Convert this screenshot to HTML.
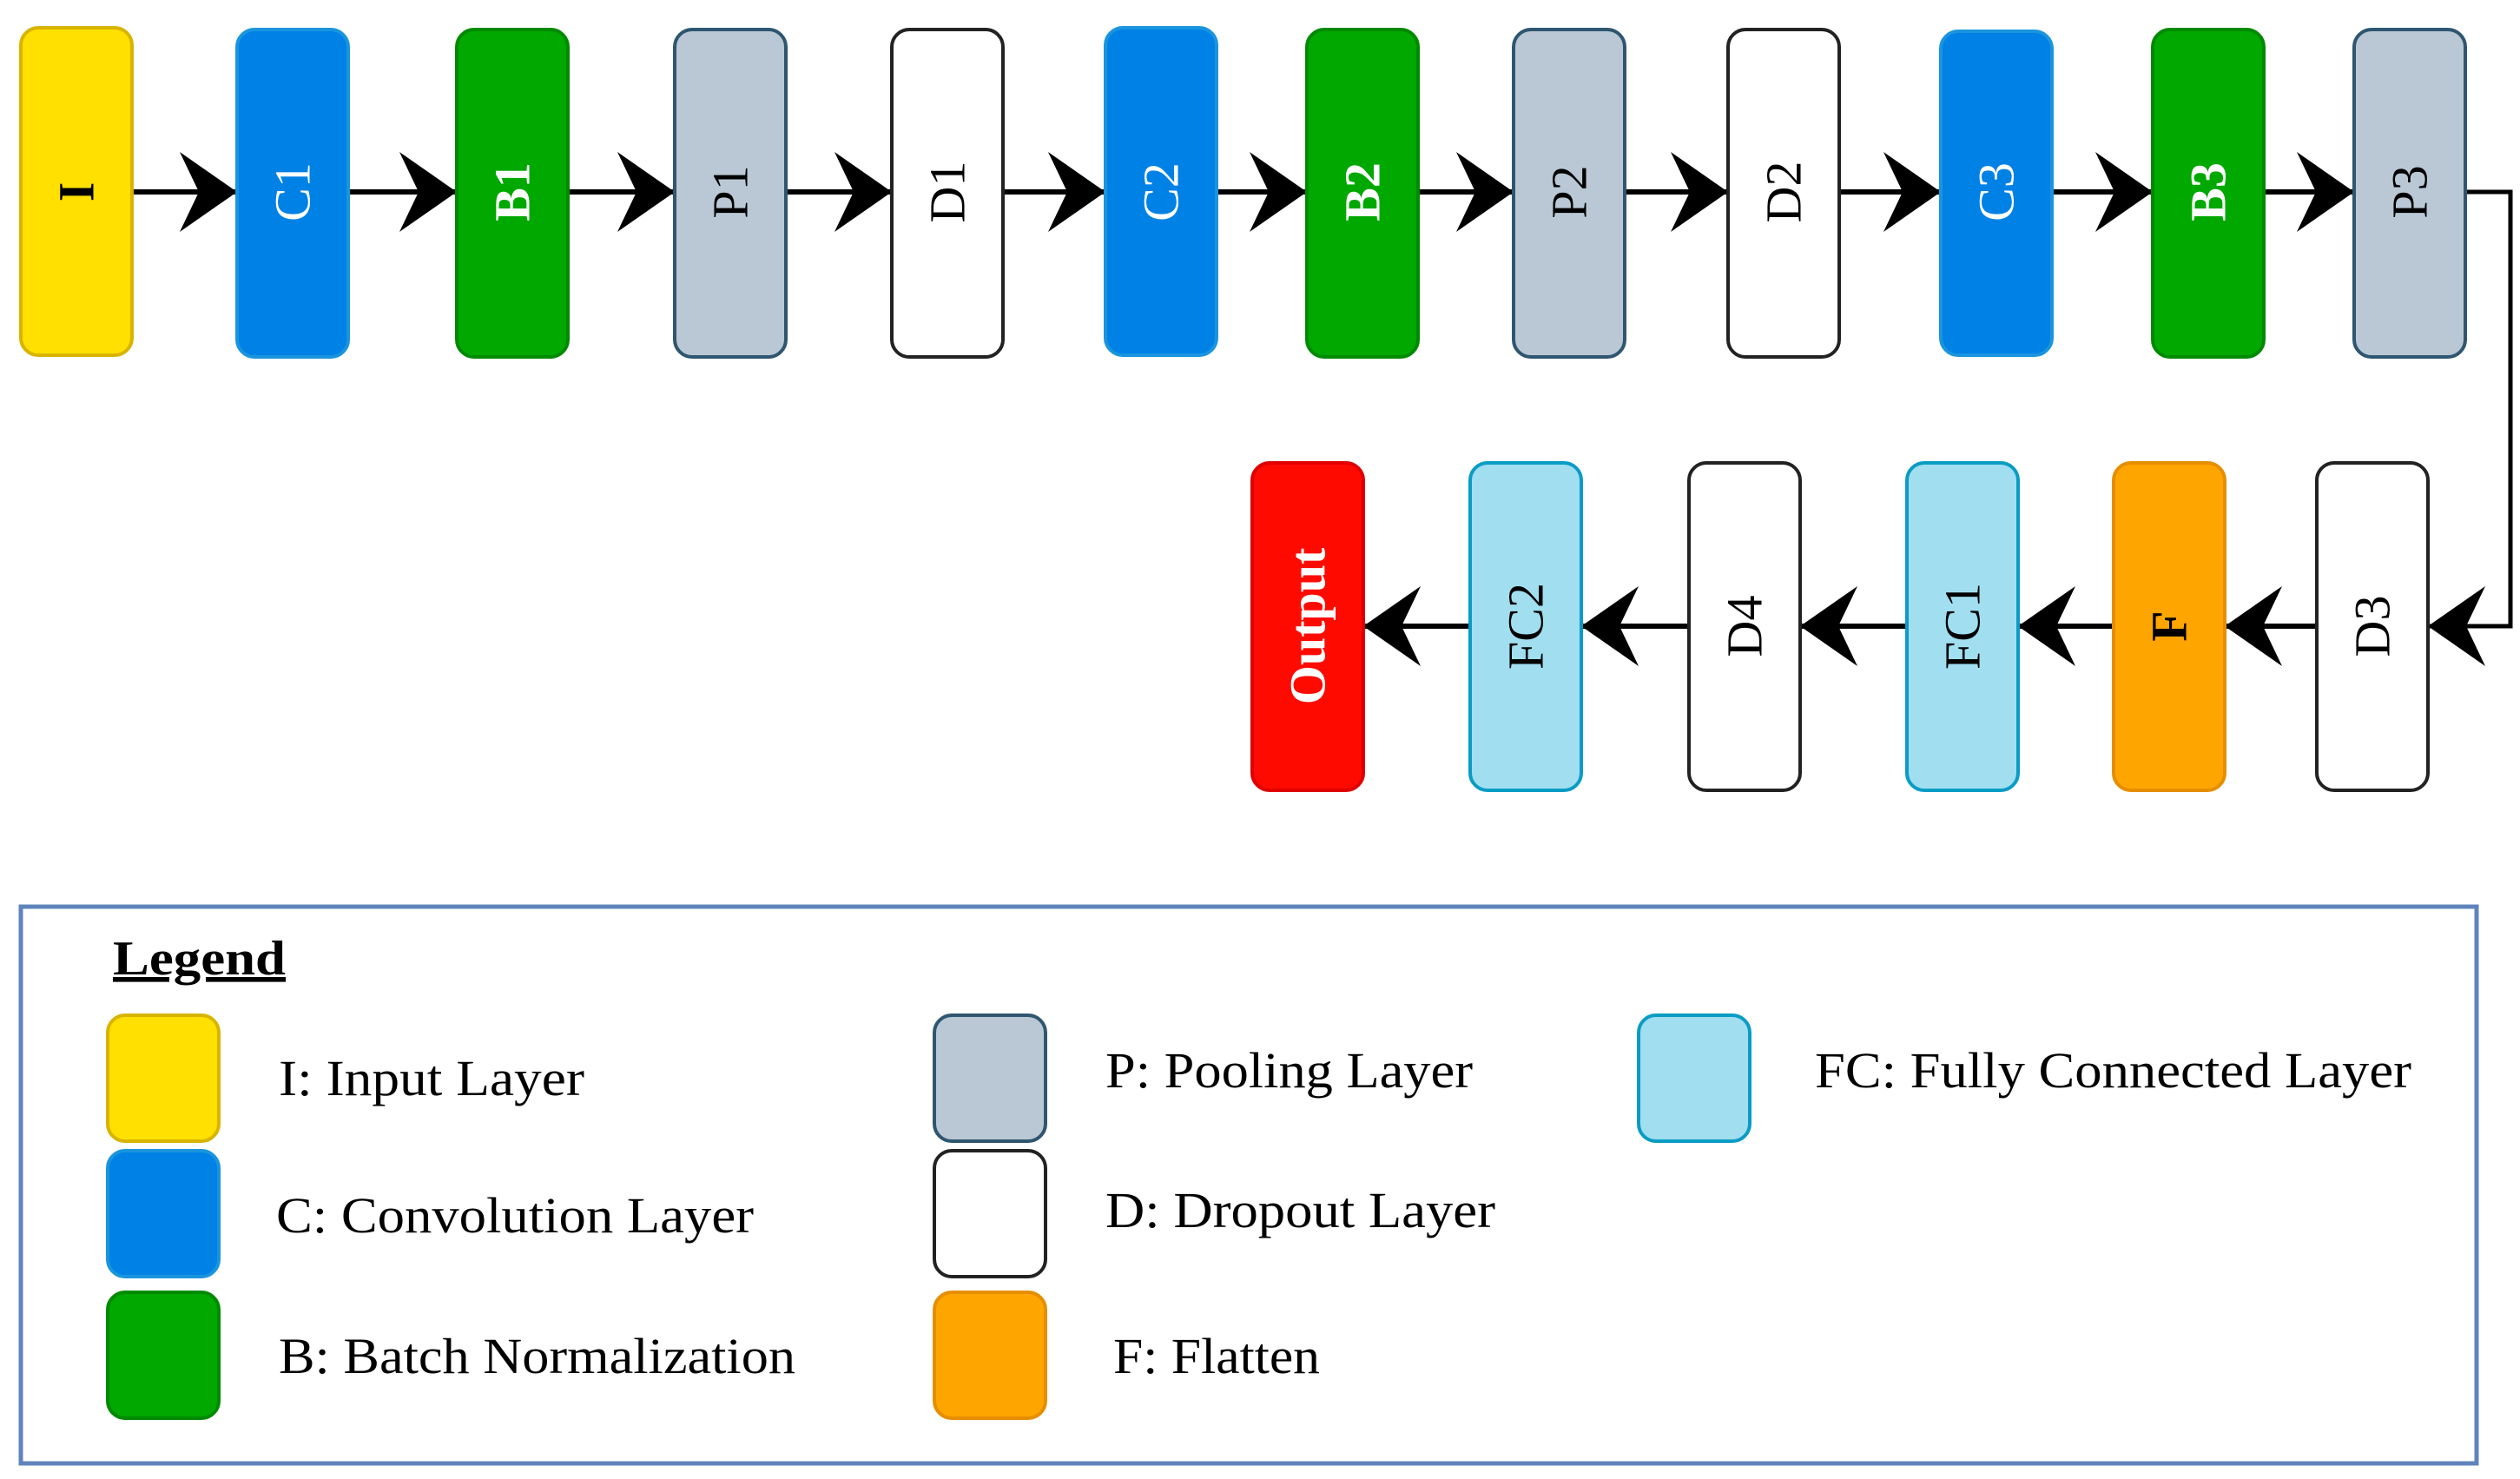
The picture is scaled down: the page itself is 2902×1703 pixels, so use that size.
<!DOCTYPE html>
<html><head><meta charset="utf-8"><style>html,body{margin:0;padding:0;background:#fff}svg{display:block}</style></head>
<body>
<svg width="2902" height="1703" viewBox="0 0 2902 1703" xmlns="http://www.w3.org/2000/svg" font-family="Liberation Serif, serif">
<defs>
<path id="ar" d="M0,0 L-66,-46 L-44,0 L-66,46 Z" fill="#000"/>
</defs>
<g stroke="#000" stroke-width="6" fill="none">
<line x1="152" y1="221" x2="273" y2="221"/>
<line x1="401" y1="221" x2="526" y2="221"/>
<line x1="654" y1="221" x2="777" y2="221"/>
<line x1="905" y1="221" x2="1027" y2="221"/>
<line x1="1155" y1="221" x2="1273" y2="221"/>
<line x1="1401" y1="221" x2="1505" y2="221"/>
<line x1="1633" y1="221" x2="1743" y2="221"/>
<line x1="1871" y1="221" x2="1990" y2="221"/>
<line x1="2118" y1="221" x2="2235" y2="221"/>
<line x1="2363" y1="221" x2="2479" y2="221"/>
<line x1="2607" y1="221" x2="2711" y2="221"/>
<polyline points="2839,221 2891,221 2891,721 2796,721" stroke-width="5"/>
<line x1="2668" y1="721" x2="2562" y2="721"/>
<line x1="2434" y1="721" x2="2324" y2="721"/>
<line x1="2196" y1="721" x2="2073" y2="721"/>
<line x1="1945" y1="721" x2="1821" y2="721"/>
<line x1="1693" y1="721" x2="1570" y2="721"/>
</g>
<g>
<use href="#ar" x="273" y="221"/><use href="#ar" x="526" y="221"/><use href="#ar" x="777" y="221"/>
<use href="#ar" x="1027" y="221"/><use href="#ar" x="1273" y="221"/><use href="#ar" x="1505" y="221"/>
<use href="#ar" x="1743" y="221"/><use href="#ar" x="1990" y="221"/><use href="#ar" x="2235" y="221"/>
<use href="#ar" x="2479" y="221"/><use href="#ar" x="2711" y="221"/>
<use href="#ar" transform="translate(2796,721) scale(-1,1)"/>
<use href="#ar" transform="translate(2562,721) scale(-1,1)"/>
<use href="#ar" transform="translate(2324,721) scale(-1,1)"/>
<use href="#ar" transform="translate(2073,721) scale(-1,1)"/>
<use href="#ar" transform="translate(1821,721) scale(-1,1)"/>
<use href="#ar" transform="translate(1570,721) scale(-1,1)"/>
</g>
<g stroke-width="4" font-size="58">
<!-- top row -->
<rect x="24" y="32" width="128" height="377" rx="20" fill="#FFE000" stroke="#D8B400"/>
<text transform="translate(88,221) rotate(-90)" text-anchor="middle" dominant-baseline="central" font-weight="bold" fill="#000">I</text>
<rect x="273" y="34" width="128" height="377" rx="20" fill="#0081E6" stroke="#1A95DD"/>
<text transform="translate(337,221) rotate(-90)" text-anchor="middle" dominant-baseline="central" fill="#fff">C1</text>
<rect x="526" y="34" width="128" height="377" rx="20" fill="#00A800" stroke="#008A00"/>
<text transform="translate(590,221) rotate(-90)" text-anchor="middle" dominant-baseline="central" font-weight="bold" fill="#fff">B1</text>
<rect x="777" y="34" width="128" height="377" rx="20" fill="#B9C8D4" stroke="#2F5670"/>
<text transform="translate(841,221) rotate(-90)" text-anchor="middle" dominant-baseline="central" fill="#000">P1</text>
<rect x="1027" y="34" width="128" height="377" rx="20" fill="#fff" stroke="#222"/>
<text transform="translate(1091,221) rotate(-90)" text-anchor="middle" dominant-baseline="central" fill="#000">D1</text>
<rect x="1273" y="32" width="128" height="377" rx="20" fill="#0081E6" stroke="#1A95DD"/>
<text transform="translate(1337,221) rotate(-90)" text-anchor="middle" dominant-baseline="central" fill="#fff">C2</text>
<rect x="1505" y="34" width="128" height="377" rx="20" fill="#00A800" stroke="#008A00"/>
<text transform="translate(1569,221) rotate(-90)" text-anchor="middle" dominant-baseline="central" font-weight="bold" fill="#fff">B2</text>
<rect x="1743" y="34" width="128" height="377" rx="20" fill="#B9C8D4" stroke="#2F5670"/>
<text transform="translate(1807,221) rotate(-90)" text-anchor="middle" dominant-baseline="central" fill="#000">P2</text>
<rect x="1990" y="34" width="128" height="377" rx="20" fill="#fff" stroke="#222"/>
<text transform="translate(2054,221) rotate(-90)" text-anchor="middle" dominant-baseline="central" fill="#000">D2</text>
<rect x="2235" y="36" width="128" height="373" rx="20" fill="#0081E6" stroke="#1A95DD"/>
<text transform="translate(2299,221) rotate(-90)" text-anchor="middle" dominant-baseline="central" fill="#fff">C3</text>
<rect x="2479" y="34" width="128" height="377" rx="20" fill="#00A800" stroke="#008A00"/>
<text transform="translate(2543,221) rotate(-90)" text-anchor="middle" dominant-baseline="central" font-weight="bold" fill="#fff">B3</text>
<rect x="2711" y="34" width="128" height="377" rx="20" fill="#B9C8D4" stroke="#2F5670"/>
<text transform="translate(2775,221) rotate(-90)" text-anchor="middle" dominant-baseline="central" fill="#000">P3</text>
<!-- bottom row -->
<rect x="1442" y="533" width="128" height="377" rx="20" fill="#FF0A00" stroke="#E00000"/>
<text transform="translate(1506,721) rotate(-90)" text-anchor="middle" dominant-baseline="central" font-weight="bold" fill="#fff">Output</text>
<rect x="1693" y="533" width="128" height="377" rx="20" fill="#A0DEF0" stroke="#0A9CC4"/>
<text transform="translate(1757,721) rotate(-90)" text-anchor="middle" dominant-baseline="central" fill="#000">FC2</text>
<rect x="1945" y="533" width="128" height="377" rx="20" fill="#fff" stroke="#222"/>
<text transform="translate(2009,721) rotate(-90)" text-anchor="middle" dominant-baseline="central" fill="#000">D4</text>
<rect x="2196" y="533" width="128" height="377" rx="20" fill="#A0DEF0" stroke="#0A9CC4"/>
<text transform="translate(2260,721) rotate(-90)" text-anchor="middle" dominant-baseline="central" fill="#000">FC1</text>
<rect x="2434" y="533" width="128" height="377" rx="20" fill="#FFA500" stroke="#E58E00"/>
<text transform="translate(2498,721) rotate(-90)" text-anchor="middle" dominant-baseline="central" font-weight="bold" fill="#000">F</text>
<rect x="2668" y="533" width="128" height="377" rx="20" fill="#fff" stroke="#222"/>
<text transform="translate(2732,721) rotate(-90)" text-anchor="middle" dominant-baseline="central" fill="#000">D3</text>
</g>
<!-- legend -->
<rect x="24" y="1044" width="2828" height="641" fill="#fff" stroke="#5F84BC" stroke-width="5"/>
<text x="130" y="1122" font-size="56" font-weight="bold" textLength="199" lengthAdjust="spacingAndGlyphs" text-decoration="underline">Legend</text>
<g stroke-width="4">
<rect x="124" y="1169" width="128" height="145" rx="20" fill="#FFE000" stroke="#D8B400"/>
<rect x="124" y="1325" width="128" height="145" rx="20" fill="#0081E6" stroke="#1A95DD"/>
<rect x="124" y="1488" width="128" height="145" rx="20" fill="#00A800" stroke="#008A00"/>
<rect x="1076" y="1169" width="128" height="145" rx="20" fill="#B9C8D4" stroke="#2F5670"/>
<rect x="1076" y="1325" width="128" height="145" rx="20" fill="#fff" stroke="#222"/>
<rect x="1076" y="1488" width="128" height="145" rx="20" fill="#FFA500" stroke="#E58E00"/>
<rect x="1887" y="1169" width="128" height="145" rx="20" fill="#A0DEF0" stroke="#0A9CC4"/>
</g>
<g font-size="58" fill="#000" lengthAdjust="spacingAndGlyphs">
<text x="321" y="1261" textLength="352" lengthAdjust="spacingAndGlyphs">I: Input Layer</text>
<text x="318" y="1419" textLength="550" lengthAdjust="spacingAndGlyphs">C: Convolution Layer</text>
<text x="321" y="1581" textLength="595" lengthAdjust="spacingAndGlyphs">B: Batch Normalization</text>
<text x="1273" y="1252" textLength="423" lengthAdjust="spacingAndGlyphs">P: Pooling Layer</text>
<text x="1273" y="1413" textLength="449" lengthAdjust="spacingAndGlyphs">D: Dropout Layer</text>
<text x="1282" y="1581" textLength="238" lengthAdjust="spacingAndGlyphs">F: Flatten</text>
<text x="2090" y="1252" textLength="687" lengthAdjust="spacingAndGlyphs">FC: Fully Connected Layer</text>
</g>
</svg>
</body></html>
